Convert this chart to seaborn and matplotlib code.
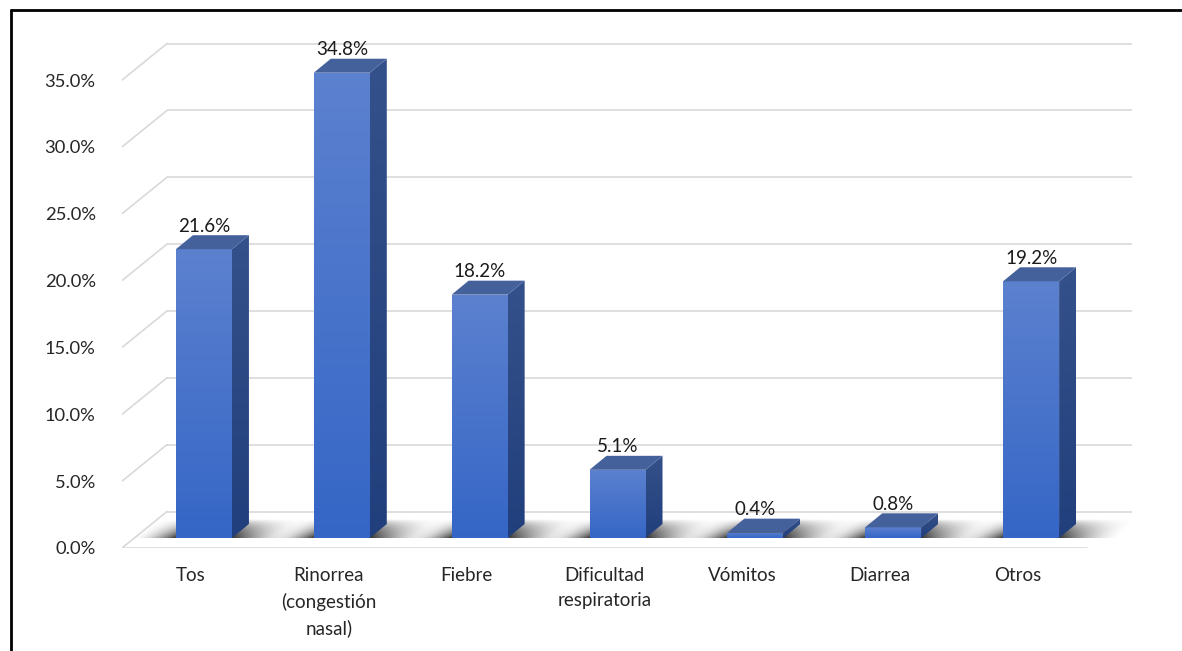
import numpy as np
import matplotlib
matplotlib.use("Agg")
import matplotlib.pyplot as plt
import seaborn as sns
from matplotlib.patches import Polygon
from matplotlib.colors import LinearSegmentedColormap

categories = ["Tos", "Rinorrea\n(congestión\nnasal)", "Fiebre",
              "Dificultad\nrespiratoria", "Vómitos", "Diarrea", "Otros"]
percentages = [21.6, 34.8, 18.2, 5.1, 0.4, 0.8, 19.2]
y_ticks = [0, 5, 10, 15, 20, 25, 30, 35]

W, H, DPI = 1182, 651, 100
sns.set_theme(style="white")
plt.rcParams["font.family"] = ["Lato", "DejaVu Sans"]

fig = plt.figure(figsize=(W / DPI, H / DPI), dpi=DPI)
fig.patch.set_facecolor("white")

# plotting box (pixels): front floor edge at the bottom
left_px, right_px, base_px, top_px = 122, 1140, 548, 30
ax = fig.add_axes([left_px / W, (H - base_px) / H,
                   (right_px - left_px) / W, (base_px - top_px) / H])
PX_X = 137.86   # pixels per category
PX_Y = 13.37    # pixels per percentage point

# depth of the box, of the bar front and of the bars themselves (in data units)
DEPTH = (45 / PX_X, 36.5 / PX_Y)
FRONT = (13 / PX_X, 10 / PX_Y)
BAR_D = (17 / PX_X, 14 / PX_Y)
BAR_W = 56 / PX_X

n = len(categories)
grid_c = "#d9d9d9"

# back wall gridlines with their diagonal links to the front axis
for v in y_ticks:
    ax.plot([-0.5 + DEPTH[0], n - 0.5 + DEPTH[0]], [v + DEPTH[1]] * 2,
            color=grid_c, lw=1.2, zorder=1, solid_capstyle="butt")
    ax.plot([-0.5, -0.5 + DEPTH[0]], [v, v + DEPTH[1]],
            color=grid_c, lw=1.2, zorder=1)
# front edge of the floor
ax.plot([-0.5, n - 0.5], [0, 0], color=grid_c, lw=1.2, zorder=1)

# front faces of the bars
sns.barplot(x=categories, y=percentages, ax=ax, width=BAR_W,
            color="#4472c4", saturation=1, zorder=3)

front_cmap = LinearSegmentedColormap.from_list("front", ["#3566c6", "#5c81cf"])
side_cmap = LinearSegmentedColormap.from_list("side", ["#213f7c", "#35518b"])
top_color = "#45619c"

grad = np.linspace(0, 1, 256).reshape(-1, 1)

# soft floor shadow: fall-off lengths in pixels
SH_LEFT, SH_RIGHT = 45 / PX_X, 60 / PX_X

for patch, val in zip(ax.patches, percentages):
    x0 = patch.get_x() + FRONT[0]
    x1 = x0 + patch.get_width()
    y0 = FRONT[1]
    y1 = y0 + val
    patch.set_x(x0)
    patch.set_y(y0)
    patch.set_edgecolor("none")

    # shadow on the floor around the base (sheared along the depth axis)
    sx0, sx1 = x0 - SH_LEFT, x1 + SH_RIGHT + BAR_D[0]
    gx = np.linspace(sx0, sx1, 300)
    gy = np.linspace(y0, y0 + BAR_D[1] * 1.3, 60)
    XX, YY = np.meshgrid(gx, gy)
    t = (YY - y0) / BAR_D[1]
    U = XX - t * BAR_D[0]
    h = np.where(U < x0, np.clip(1 - (x0 - U) / SH_LEFT, 0, 1) ** 1.8,
                 np.where(U > x1, np.clip(1 - (U - x1) / SH_RIGHT, 0, 1) ** 1.6, 1.0))
    vprof = np.clip(1 - t / 1.3, 0, 1) ** 0.8
    rgba = np.zeros(XX.shape + (4,))
    rgba[..., 3] = 0.8 * h * vprof
    ax.imshow(rgba, extent=[sx0, sx1, y0, y0 + BAR_D[1] * 1.3], origin="lower",
              aspect="auto", zorder=2, interpolation="bilinear")

    # vertical gradient on the front face
    im = ax.imshow(grad, extent=[x0, x1, y0, y1], origin="lower",
                   cmap=front_cmap, aspect="auto", zorder=3.5)
    im.set_clip_path(patch)

    # right side face
    side = Polygon([(x1, y0), (x1 + BAR_D[0], y0 + BAR_D[1]),
                    (x1 + BAR_D[0], y1 + BAR_D[1]), (x1, y1)],
                   closed=True, facecolor="none", edgecolor="none")
    ax.add_patch(side)
    im = ax.imshow(grad, extent=[x1, x1 + BAR_D[0], y0, y1 + BAR_D[1]],
                   origin="lower", cmap=side_cmap, aspect="auto", zorder=3.5)
    im.set_clip_path(side)

    # top face
    ax.add_patch(Polygon([(x0, y1), (x1, y1), (x1 + BAR_D[0], y1 + BAR_D[1]),
                          (x0 + BAR_D[0], y1 + BAR_D[1])],
                         closed=True, facecolor=top_color, edgecolor="none",
                         zorder=4))

    # value label
    ax.text((x0 + x1) / 2, y1 + BAR_D[1] + 0.05, f"{val:.1f}%",
            ha="center", va="bottom", fontsize=13.5, color="#1a1a1a", zorder=5)

ax.set_xlim(-0.5, -0.5 + (right_px - left_px) / PX_X)
ax.set_ylim(0, (base_px - top_px) / PX_Y)
ax.set_yticks(y_ticks)
ax.set_yticklabels([f"{v:.1f}%" for v in y_ticks])
ax.set_xticks(range(n))
ax.set_xticklabels(categories, linespacing=1.55)
ax.tick_params(axis="y", length=0, pad=19, labelsize=13.2, labelcolor="#262626")
ax.tick_params(axis="x", length=0, pad=14, labelsize=13.5, labelcolor="#262626")
ax.set_xlabel("")
ax.set_ylabel("")
for s in ax.spines.values():
    s.set_visible(False)
ax.grid(False)
ax.set_facecolor("none")

# outer frame: top and left edges only
fig.add_artist(plt.Line2D([11 / W, 11 / W], [0, 1 - 10 / H], color="black", lw=2,
                          transform=fig.transFigure))
fig.add_artist(plt.Line2D([11 / W, 1], [1 - 10 / H, 1 - 10 / H], color="black", lw=2,
                          transform=fig.transFigure))

fig.savefig("out.png", dpi=DPI, facecolor="white")
